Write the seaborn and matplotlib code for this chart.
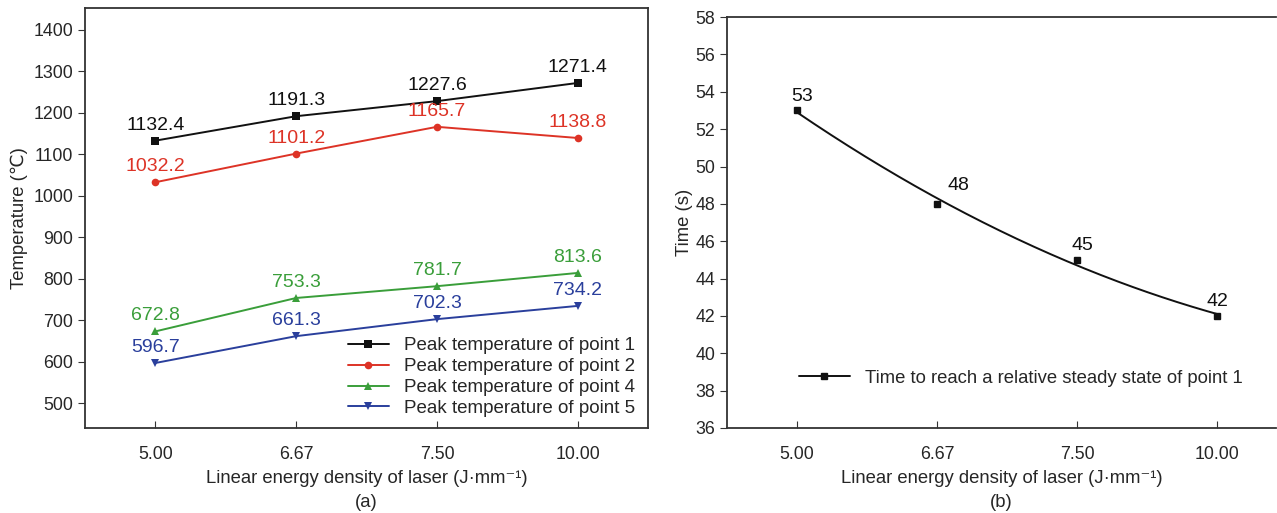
import numpy as np
import pandas as pd
import matplotlib
matplotlib.use("Agg")
import matplotlib.pyplot as plt
import seaborn as sns

# data
energy_labels = ["5.00", "6.67", "7.50", "10.00"]
point1 = [1132.4, 1191.3, 1227.6, 1271.4]
point2 = [1032.2, 1101.2, 1165.7, 1138.8]
point4 = [672.8, 753.3, 781.7, 813.6]
point5 = [596.7, 661.3, 702.3, 734.2]
steady_time = [53, 48, 45, 42]

series_names = ["Peak temperature of point 1", "Peak temperature of point 2",
                "Peak temperature of point 4", "Peak temperature of point 5"]
series_colors = ["#111111", "#dd3326", "#3a9e3a", "#2a3f9c"]
series_markers = ["s", "o", "^", "v"]

sns.set_style("ticks")
plt.rcParams['font.family'] = ['Liberation Sans', 'DejaVu Sans']
plt.rcParams['axes.edgecolor'] = '#333333'
plt.rcParams['axes.linewidth'] = 1.3

pos = np.arange(len(energy_labels))
rows = []
for name, vals in zip(series_names, [point1, point2, point4, point5]):
    for p, v in zip(pos, vals):
        rows.append({"pos": p, "temp": v, "series": name})
temp_df = pd.DataFrame(rows)

fig = plt.figure(figsize=(12.77, 5.13), dpi=100)
ax1 = fig.add_axes([0.0666, 0.1657, 0.4409, 0.8187])
ax2 = fig.add_axes([0.5693, 0.1657, 0.430, 0.801])

sns.lineplot(data=temp_df, x="pos", y="temp", hue="series", style="series",
             palette=dict(zip(series_names, series_colors)),
             markers=dict(zip(series_names, series_markers)),
             dashes=False, markersize=5.5, linewidth=1.4, markeredgewidth=0,
             ax=ax1)

for name, vals, c in zip(series_names, [point1, point2, point4, point5], series_colors):
    for p, v in zip(pos, vals):
        ax1.annotate(f"{v:.1f}", (p, v), xytext=(0, 5), textcoords="offset points",
                     ha="center", va="bottom", color=c, fontsize=14)

ax1.set_xlim(-0.5, 3.5)
ax1.set_ylim(440, 1452)
ax1.set_yticks(range(500, 1401, 100))
ax1.set_xticks(pos)
ax1.set_xticklabels(energy_labels)
ax1.set_xlabel("Linear energy density of laser (J·mm⁻¹)", fontsize=13.3, labelpad=5)
ax1.set_ylabel("Temperature (℃)", fontsize=13.3, labelpad=4)
ax1.legend(frameon=False, loc="lower right", fontsize=13.5, handlelength=2.2,
           labelspacing=0.2, borderaxespad=0.3, bbox_to_anchor=(1.0, -0.005))

# right panel: time to steady state with a smooth quadratic trend through points
ax2.plot(pos, steady_time, linestyle="none", marker="s", markersize=5, color="#111111")
fit = np.polyfit(pos, steady_time, 2)
xs = np.linspace(pos[0], pos[-1], 200)
sns.lineplot(x=xs, y=np.polyval(fit, xs), color="#111111", linewidth=1.4, ax=ax2)
offsets = [(4, 4), (15, 7), (4, 4), (0, 4)]
for p, v, off in zip(pos, steady_time, offsets):
    ax2.annotate(f"{v}", (p, v), xytext=off, textcoords="offset points",
                 ha="center", va="bottom", color="#111111", fontsize=14)
ax2.plot([], [], color="#111111", marker="s", markersize=5, linewidth=1.4,
         label="Time to reach a relative steady state of point 1")
ax2.legend(frameon=False, loc="lower left", fontsize=13.3, handlelength=2.8,
           bbox_to_anchor=(0.10, 0.06))

ax2.set_xlim(-0.5, 3.42)
ax2.set_ylim(36, 58)
ax2.set_yticks(range(36, 59, 2))
ax2.set_xticks(pos)
ax2.set_xticklabels(energy_labels)
ax2.set_xlabel("Linear energy density of laser (J·mm⁻¹)", fontsize=13.3, labelpad=5)
ax2.set_ylabel("Time (s)", fontsize=13.3, labelpad=2)
ax2.spines["right"].set_visible(False)

for ax in (ax1, ax2):
    ax.tick_params(axis="x", direction="in", length=5, labelsize=12.8, pad=13, color="#333333")
    ax.tick_params(axis="y", direction="out", length=5, labelsize=12.8, color="#333333")

fig.text(0.2870, 0.004, "(a)", ha="center", va="bottom", fontsize=13.3)
fig.text(0.7843, 0.004, "(b)", ha="center", va="bottom", fontsize=13.3)

fig.savefig("out.png", dpi=100)
